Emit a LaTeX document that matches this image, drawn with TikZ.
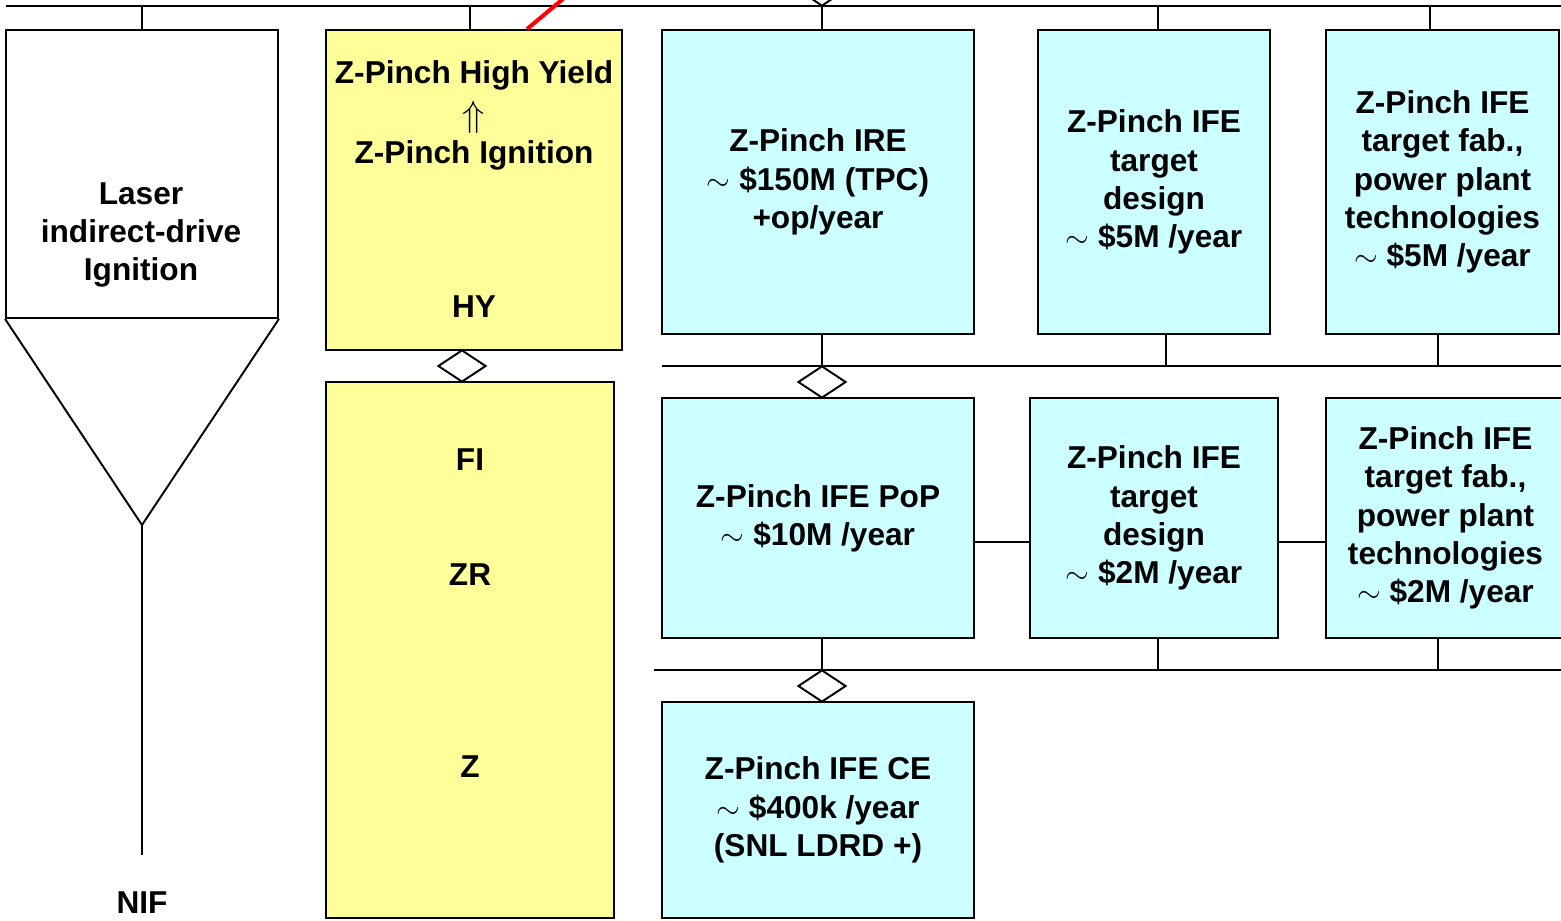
\documentclass[tikz,border=0pt]{standalone}
\usepackage[svgnames, dvipsnames]{xcolor}
\usepackage{amsmath,amssymb}
\usepackage{fontspec}
\setmainfont{Liberation Sans}
\usetikzlibrary{calc, shapes.geometric}
\tikzset{>=latex}
\definecolor{zyellow}{RGB}{255,255,153}
\definecolor{zcyan}{RGB}{204,255,255}
\newcommand{\zfont}{\bfseries\fontsize{18}{21.8}\selectfont}
\tikzset{
  zbox/.style={draw, line width=1.1pt, inner sep=0pt, align=center, font=\zfont},
  ztext/.style={inner sep=0pt, align=center, font=\zfont},
  zdia/.style={draw, diamond, fill=white, line width=1.1pt, inner sep=0pt,
    minimum width=0.96cm, minimum height=0.64cm},
  zline/.style={line width=1.1pt}}

\begin{document}
\begin{tikzpicture}[x=0.02cm, y=-0.02cm]
\useasboundingbox (0,0) rectangle (1561,920);
\node[zbox, fill=white, minimum width=5.44cm, minimum height=5.76cm] (laser) at (142,174) {};
\node[zbox, fill=zyellow, minimum width=5.92cm, minimum height=6.4cm] (hy) at (474,190) {};
\node[zbox, fill=zyellow, minimum width=5.76cm, minimum height=10.72cm] (zr) at (470,650) {};
\node[zbox, fill=zcyan, minimum width=6.24cm, minimum height=6.08cm] (ire) at (818,182)
  {Z-Pinch IRE\\$\sim$ \$150M (TPC)\\+op/year};
\node[zbox, fill=zcyan, minimum width=4.64cm, minimum height=6.08cm] (tdA) at (1154,182)
  {Z-Pinch IFE\\target\\design\\$\sim$ \$5M /year};
\node[zbox, fill=zcyan, minimum width=4.66cm, minimum height=6.08cm] (tfA) at (1442.5,182)
  {Z-Pinch IFE\\target fab.,\\power plant\\technologies\\$\sim$ \$5M /year};
\node[zbox, fill=zcyan, minimum width=6.24cm, minimum height=4.8cm] (pop) at (818,518)
  {Z-Pinch IFE PoP\\$\sim$ \$10M /year};
\node[zbox, fill=zcyan, minimum width=4.96cm, minimum height=4.8cm] (tdB) at (1154,518)
  {Z-Pinch IFE\\target\\design\\$\sim$ \$2M /year};
\node[zbox, fill=zcyan, minimum width=4.78cm, minimum height=4.8cm] (tfB) at (1445.5,518)
  {Z-Pinch IFE\\target fab.,\\power plant\\technologies\\$\sim$ \$2M /year};
\node[zbox, fill=zcyan, minimum width=6.24cm, minimum height=4.32cm] (ce) at (818,810)
  {Z-Pinch IFE CE\\$\sim$ \$400k /year\\(SNL LDRD +)};

\node[ztext] (lasertext) at (141,235) {Laser\\indirect-drive\\Ignition};
\node[ztext] (hytop) at (474,75) {Z-Pinch High Yield};
\node[ztext] (hyarrow) at (474,117) {\scalebox{1.2}{$\Uparrow$}};
\node[ztext] (hybot) at (474,155) {Z-Pinch Ignition};
\node[ztext] (hylab) at (474,307) {HY};
\node[ztext] (fi) at (470,460) {FI};
\node[ztext] (zrlab) at (470,575) {ZR};
\node[ztext] (z) at (470,767) {Z};
\node[ztext] (nif) at (142,903) {NIF};

\coordinate (tip) at (142,525);
\coordinate (nifend) at (142,855);
\draw[zline] (laser.south west) -- (tip) -- (laser.south east);
\draw[zline] (tip) -- (nifend);

\coordinate (busAw) at (6,6);
\coordinate (busAe) at (1561,6);
\coordinate (busBw) at (662,366);
\coordinate (busBe) at (1561,366);
\coordinate (busCw) at (654,670);
\coordinate (busCe) at (1561,670);
\draw[zline] (busAw) -- (busAe);
\draw[zline] (busBw) -- (busBe);
\draw[zline] (busCw) -- (busCe);

\coordinate (laserup) at (laser.north);
\coordinate (hyup) at ($(hy.north)+(-4,0)$);
\coordinate (ireup) at ($(ire.north)+(4,0)$);
\coordinate (tdAup) at ($(tdA.north)+(4,0)$);
\coordinate (tfAup) at ($(tfA.north)+(-12.5,0)$);
\foreach \n in {laserup, hyup, ireup, tdAup, tfAup}
  \draw[zline] (\n) -- (\n |- busAw);

\coordinate (iredown) at ($(ire.south)+(4,0)$);
\coordinate (tdAdown) at ($(tdA.south)+(12,0)$);
\coordinate (tfAdown) at ($(tfA.south)+(-4.5,0)$);
\foreach \n in {iredown, tdAdown, tfAdown}
  \draw[zline] (\n) -- (\n |- busBw);

\coordinate (popdown) at ($(pop.south)+(4,0)$);
\coordinate (tdBdown) at ($(tdB.south)+(4,0)$);
\coordinate (tfBdown) at ($(tfB.south)+(-7.5,0)$);
\foreach \n in {popdown, tdBdown, tfBdown}
  \draw[zline] (\n) -- (\n |- busCw);

\draw[zline] ($(pop.east)+(0,24)$) -- ($(tdB.west)+(0,24)$);
\draw[zline] ($(tdB.east)+(0,24)$) -- ($(tfB.west)+(0,24)$);

\node[zdia] (dia0) at (822,-10) {};
\node[zdia] (dia1) at (462,366) {};
\node[zdia] (dia2) at (822,382) {};
\node[zdia] (dia3) at (822,686) {};

\coordinate (redA) at ($(hy.north)+(53,0)$);
\coordinate (redB) at (563,-1);
\draw[red, line width=2.3pt] (redA) -- (redB);
\end{tikzpicture}
\end{document}
